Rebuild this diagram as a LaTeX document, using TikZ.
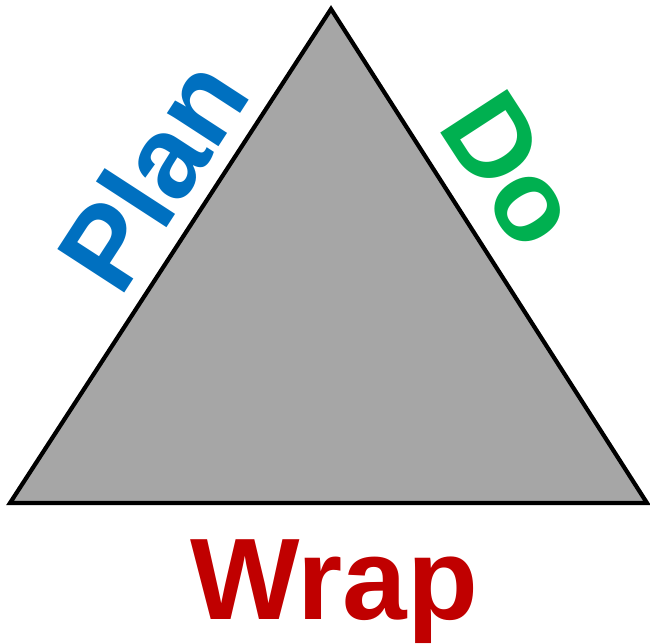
\documentclass[tikz,border=0pt]{standalone}
\usepackage{fontspec}
\setmainfont{Liberation Sans}
\usepackage{xcolor}
\usepackage{tikz}
\usetikzlibrary{positioning}

\definecolor{planblue}{HTML}{0070C0}
\definecolor{dogreen}{HTML}{00B050}
\definecolor{wrapred}{HTML}{C00000}
\definecolor{trigray}{HTML}{A6A6A6}

\begin{document}
\begin{tikzpicture}[
  x=1pt, y=-1pt,
  tri/.style={draw=black, fill=trigray, line width=4.2pt, line join=miter},
  phase/.style={inner sep=0pt, font=\bfseries\fontsize{116}{120}\selectfont}
]

  \useasboundingbox (0,0) rectangle (650,643);

  \coordinate (apex) at (331,9);
  \coordinate (left) at (10,503);
  \coordinate (right) at (647,503);

  \draw[tri] (apex) -- (left) -- (right) -- cycle;

  \node[phase, text=planblue, rotate=57] (plan) at (152,174) {Plan};
  \node[phase, text=dogreen, rotate=-57] (do) at (512,170) {Do};
  \node[phase, text=wrapred, anchor=base] (wrap) at (334,619) {Wrap};

\end{tikzpicture}
\end{document}
